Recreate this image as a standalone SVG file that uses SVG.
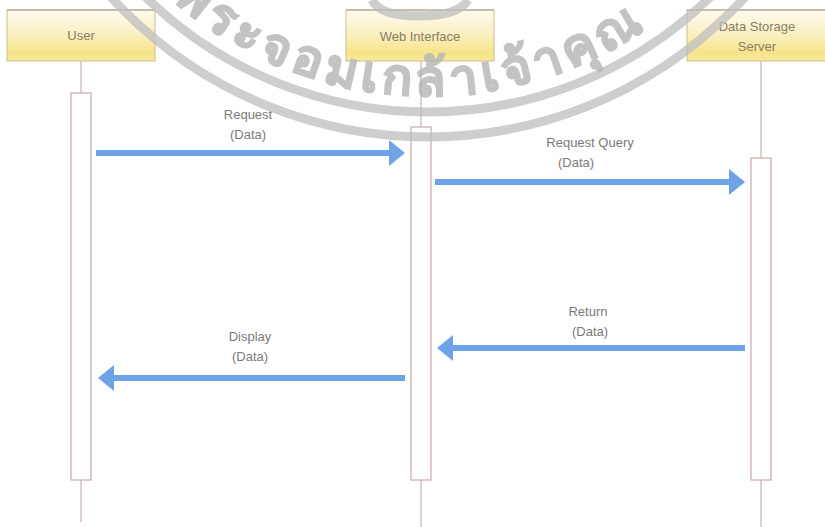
<svg xmlns="http://www.w3.org/2000/svg" width="825" height="527" viewBox="0 0 825 527">
<defs>
<linearGradient id="hdr" x1="0" y1="0" x2="0" y2="1">
<stop offset="0" stop-color="#fdfbf1"/>
<stop offset="0.45" stop-color="#faf1c4"/>
<stop offset="0.85" stop-color="#f6e488"/>
<stop offset="1" stop-color="#f8ea9e"/>
</linearGradient>
<marker id="ah" viewBox="0 0 16 26" refX="0" refY="13" markerWidth="16" markerHeight="26" markerUnits="userSpaceOnUse" orient="auto">
<path d="M0,0 L16,13 L0,26 Z" fill="#6ea3e8"/>
</marker>
<path id="wmText" d="M 40,-292 A 388 388 0 0 0 816,-292"/>
</defs>
<style>
.hdr{fill:url(#hdr);stroke:#cdbd8c;stroke-width:1}
.hdrtop{stroke:#a89f94;stroke-width:1}
.ht{font-family:"Liberation Sans",Arial,sans-serif;font-size:13px;fill:#8a7c66;text-anchor:middle}
.life{stroke:#cfb1b1;stroke-width:1.2;fill:none}
.act{fill:#ffffff;stroke:#c9a9a9;stroke-width:1.2}
.msg{stroke:#6ea3e8;stroke-width:6;fill:none;marker-end:url(#ah)}
.lbl{font-family:"Liberation Sans",Arial,sans-serif;font-size:13px;fill:#7a7a7a;text-anchor:middle}
.wm{fill:none;stroke:#bdbdbd;stroke-width:9;opacity:0.75}
.wmt{font-family:"Noto Sans","DejaVu Sans",sans-serif;font-size:50px;font-weight:bold;letter-spacing:5px;fill:#b5b5b5;stroke:#b5b5b5;stroke-width:1.6;opacity:0.8}
</style>
<rect width="825" height="527" fill="#ffffff"/>

<g id="user">
<rect class="hdr" x="7" y="10" width="148" height="51"/>
<line class="hdrtop" x1="7" y1="10" x2="155" y2="10"/>
<text class="ht" x="81" y="40">User</text>
<line class="life" x1="81" y1="61" x2="81" y2="522"/>
<rect class="act" x="71" y="93" width="20" height="387"/>
</g>

<g id="web">
<rect class="hdr" x="346" y="10" width="148" height="51"/>
<line class="hdrtop" x1="346" y1="10" x2="494" y2="10"/>
<text class="ht" x="420" y="41">Web Interface</text>
<line class="life" x1="421" y1="61" x2="421" y2="527"/>
<rect class="act" x="411" y="127" width="20" height="353"/>
</g>

<g id="storage">
<rect class="hdr" x="687" y="10" width="148" height="51"/>
<line class="hdrtop" x1="687" y1="10" x2="835" y2="10"/>
<text class="ht" x="757" y="31">Data Storage</text>
<text class="ht" x="757" y="51">Server</text>
<line class="life" x1="761" y1="61" x2="761" y2="527"/>
<rect class="act" x="751" y="158" width="20" height="322"/>
</g>

<g id="connectors">
<line class="msg" x1="96" y1="153" x2="389" y2="153"/>
<text class="lbl" x="248" y="119">Request</text>
<text class="lbl" x="248" y="139">(Data)</text>

<line class="msg" x1="435" y1="182" x2="729" y2="182"/>
<text class="lbl" x="590" y="147">Request Query</text>
<text class="lbl" x="576" y="167">(Data)</text>

<line class="msg" x1="745" y1="348" x2="453" y2="348"/>
<text class="lbl" x="588" y="316">Return</text>
<text class="lbl" x="590" y="336">(Data)</text>

<line class="msg" x1="405" y1="378" x2="114" y2="378"/>
<text class="lbl" x="250" y="341">Display</text>
<text class="lbl" x="250" y="361">(Data)</text>
</g>

<g id="watermark">
<circle class="wm" cx="428" cy="-292" r="404"/>
<circle class="wm" cx="428" cy="-292" r="429"/>
<path class="wm" d="M372,0 Q380,16 418,16 Q458,16 468,0" stroke-width="7"/>
<text class="wmt"><textPath href="#wmText" startOffset="587" text-anchor="middle">พระจอมเกล้าเจ้าคุณ</textPath></text>
</g>
</svg>
